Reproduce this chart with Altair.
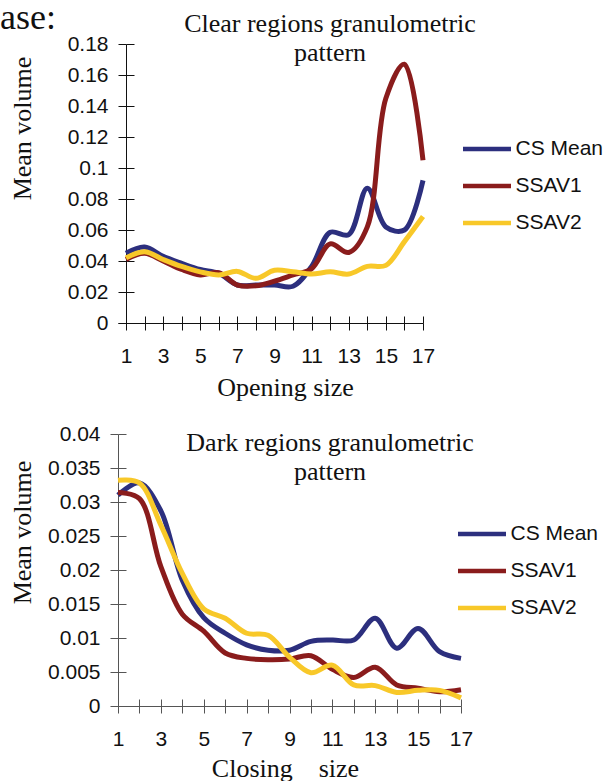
import altair as alt
import pandas as pd

SANS = "Liberation Sans"
SERIF = "Liberation Serif"

sizes = list(range(1, 18))
series_names = ["CS Mean", "SSAV1", "SSAV2"]
series_colors = ["#2c2f7e", "#8a1c1c", "#f8c829"]

clear_cs_mean = [0.045, 0.049, 0.043, 0.0385, 0.0345, 0.032, 0.0245, 0.0245, 0.0245, 0.0237,
                 0.0365, 0.0585, 0.057, 0.087, 0.062, 0.060, 0.092]
clear_ssav1 = [0.041, 0.045, 0.040, 0.0345, 0.031, 0.0325, 0.0245, 0.024, 0.027, 0.031,
               0.035, 0.051, 0.0455, 0.062, 0.145, 0.167, 0.105]
clear_ssav2 = [0.042, 0.046, 0.041, 0.0365, 0.033, 0.031, 0.0333, 0.0288, 0.034, 0.033,
               0.0316, 0.033, 0.0316, 0.0365, 0.0372, 0.0525, 0.0687]

dark_cs_mean = [0.031, 0.0328, 0.0287, 0.0185, 0.013, 0.0107, 0.009, 0.0082, 0.0082, 0.0095,
                0.0097, 0.0097, 0.0129, 0.0085, 0.0114, 0.008, 0.007]
dark_ssav1 = [0.0314, 0.0305, 0.0205, 0.0135, 0.011, 0.0078, 0.007, 0.0068, 0.0069, 0.0074,
              0.0054, 0.0042, 0.0057, 0.0031, 0.0026, 0.0021, 0.0024]
dark_ssav2 = [0.0332, 0.0328, 0.0266, 0.0195, 0.0143, 0.0129, 0.0107, 0.0104, 0.0072, 0.0049,
              0.006, 0.0031, 0.003, 0.002, 0.0023, 0.0023, 0.0012]

clear_y_ticks = [0, 0.02, 0.04, 0.06, 0.08, 0.1, 0.12, 0.14, 0.16, 0.18]
dark_y_ticks = [0, 0.005, 0.01, 0.015, 0.02, 0.025, 0.03, 0.035, 0.04]
x_ticks = sizes

clear_title = ["Clear regions granulometric", "pattern"]
dark_title = ["Dark regions granulometric", "pattern"]
clear_x_title = "Opening size"
dark_x_title = "Closing\u00a0\u00a0\u00a0\u00a0size"
y_title = "Mean volume"
page_fragment = ["ase:"]


def long_df(vals_list):
    rows = []
    for name, vals in zip(series_names, vals_list):
        for s, v in zip(sizes, vals):
            rows.append({"size": s, "series": name, "value": v})
    return pd.DataFrame(rows)


def panel(df, title_lines, title_dx, title_dy, x_title, x_title_y, x_domain, w, h, y_vals, y_fmt,
          axis_shift, ytitle_x, ytitle_y, leg_x, leg_y, leg_pad, axis_color, extra=None):
    xs = alt.Scale(domain=x_domain, nice=False, zero=False)
    ys = alt.Scale(domain=[y_vals[0], y_vals[-1]], nice=False, zero=False)
    label_expr = "datum.value % 2 == 1 ? datum.label : ''"
    x_main = alt.Axis(values=x_ticks, labelExpr=label_expr, labelFlush=False, labelOverlap=False,
                      tickSize=7, tickColor=axis_color, domainColor=axis_color, grid=False,
                      labelPadding=15, labelFont=SANS, labelFontSize=21, labelColor="#111",
                      titleFont=SERIF, titleFontSize=26, titleFontWeight="normal", titleColor="#111",
                      titleX=167, titleY=x_title_y, titleBaseline="top")
    x_ghost = alt.Axis(values=x_ticks, labels=False, domain=False, tickSize=7, tickColor=axis_color,
                       offset=-7, grid=False, orient="bottom")
    y_main = alt.Axis(values=y_vals, format=y_fmt, labelOverlap=False, labelFlush=False,
                      offset=axis_shift, tickSize=8, tickColor=axis_color, domainColor=axis_color,
                      grid=False, labelPadding=10, labelFont=SANS, labelFontSize=21, labelColor="#111",
                      titleFont=SERIF, titleFontSize=26, titleFontWeight="normal", titleColor="#111",
                      titleX=ytitle_x, titleY=ytitle_y, titleBaseline="alphabetic", titleAngle=270)
    y_ghost = alt.Axis(values=y_vals, labels=False, domain=False, tickSize=8, tickColor=axis_color,
                       offset=axis_shift - 8, grid=False, orient="left")

    lines = alt.Chart(df).mark_line(strokeWidth=5, interpolate="catmull-rom").encode(
        x=alt.X("size:Q", scale=xs, axis=x_main, title=x_title),
        y=alt.Y("value:Q", scale=ys, axis=y_main, title=y_title),
        color=alt.Color("series:N",
                        scale=alt.Scale(domain=series_names, range=series_colors),
                        legend=alt.Legend(orient="none", legendX=leg_x, legendY=leg_y, title=None,
                                          symbolType="stroke", symbolSize=48 * 48,
                                          symbolStrokeWidth=4.5, labelFont=SANS, labelFontSize=21,
                                          labelColor="#111", labelOffset=2, rowPadding=leg_pad,
                                          padding=0)),
        order=alt.Order("size:Q"),
    )
    ghost = alt.Chart(df).mark_point(opacity=0).encode(
        x=alt.X("size:Q", scale=xs, axis=x_ghost, title=None),
        y=alt.Y("value:Q", scale=ys, axis=y_ghost, title=None),
    )
    layers = [lines, ghost]
    if extra is not None:
        layers.append(extra)
    return alt.layer(*layers).resolve_axis(x="independent", y="independent").properties(
        width=w, height=h,
        title=alt.TitleParams(text=title_lines, font=SERIF, fontSize=26, fontWeight="normal",
                              color="#111", anchor="middle", dx=title_dx, dy=title_dy,
                              lineHeight=29),
    )


fragment = alt.Chart(pd.DataFrame({"t": page_fragment})).mark_text(
    font=SERIF, fontSize=36, align="left", baseline="alphabetic", color="#111"
).encode(text="t:N", x=alt.value(-118), y=alt.value(-15))

top = panel(long_df([clear_cs_mean, clear_ssav1, clear_ssav2]), clear_title, 59.5, 70,
            clear_x_title, 51, [0.569, 17], 305, 279, clear_y_ticks, ".2~f",
            -8, -96, 84, 342.5, 78.5, -3, "#111", extra=fragment)
bottom = panel(long_df([dark_cs_mean, dark_ssav1, dark_ssav2]), dark_title, 40.5, 66,
               dark_x_title, 49, [1, 17], 343, 272, dark_y_ticks, ".3~f",
               0, -88, 98, 337.5, 73.5, -2, "#555")

chart = alt.vconcat(top, bottom, spacing=23).resolve_scale(color="independent").resolve_legend(
    color="independent"
).configure_view(stroke=None).properties(
    padding={"left": 0, "top": 0, "right": 0, "bottom": 0}, background="white"
)

chart.save("out.html", embed_options={"renderer": "svg", "actions": False})
